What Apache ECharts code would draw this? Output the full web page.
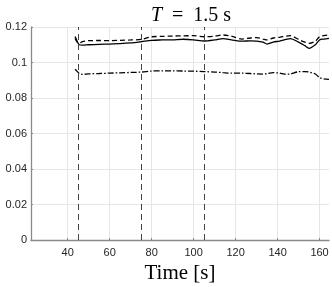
<!DOCTYPE html>
<html><head><meta charset="utf-8">
<script src="https://cdn.jsdelivr.net/npm/echarts@6/dist/echarts.min.js"></script>
<style>html,body{margin:0;padding:0;background:#fff}#c{width:332px;height:287px}</style>
</head><body><div id="c"></div>
<script>
const timeS = [43.5,44.5,45.5,47,50,55,60,65,70,75,80,85,90,95,100,105,110,114,118,123,127,130,133,135,138,141,144,146,150,153,155,158,160,162,164.5];
const solidVals = [0.1146,0.112,0.110,0.1098,0.110,0.1102,0.1104,0.1106,0.111,0.1117,0.1125,0.1127,0.1128,0.1131,0.1128,0.1121,0.1127,0.1135,0.1128,0.112,0.1122,0.1121,0.1115,0.1104,0.1115,0.1121,0.113,0.1135,0.1115,0.1095,0.108,0.110,0.1127,0.1132,0.1136];
const dashedVals = [0.1136,0.1115,0.1108,0.1118,0.1123,0.1124,0.1123,0.1125,0.1127,0.113,0.1145,0.1147,0.1149,0.115,0.1151,0.1145,0.1148,0.1155,0.1148,0.1132,0.1138,0.114,0.1132,0.1127,0.1138,0.1142,0.1148,0.1151,0.113,0.1115,0.1108,0.112,0.1145,0.1152,0.1155];
const dashDotVals = [0.0962,0.095,0.0938,0.0933,0.0936,0.0938,0.094,0.0942,0.0944,0.0946,0.0952,0.0953,0.0953,0.0952,0.0951,0.0949,0.0946,0.0943,0.094,0.094,0.0938,0.0936,0.0935,0.0937,0.0943,0.094,0.0934,0.0935,0.0948,0.0949,0.0946,0.0935,0.0915,0.0908,0.0905];
const xTicks = [40,60,80,100,120,140,160];
const markTimes = [45,75,105];

const zip = v => timeS.map((t,i)=>[t,v[i]]);
const chart = echarts.init(document.getElementById('c'));
chart.setOption({
  animation:false,
  title:{text:'{i|T}  =  1.5 s',left:186,textAlign:'center',top:1,
    textStyle:{fontFamily:'Liberation Serif',fontSize:20,fontWeight:'normal',color:'#000',
      rich:{i:{fontFamily:'Liberation Serif',fontStyle:'italic',fontSize:20,color:'#000'}}}},
  grid:{left:31,right:3,top:27,bottom:47,containLabel:false,outerBoundsMode:'none'},
  xAxis:{type:'value',min:22.5,max:164.5,
    name:'Time [s]',nameLocation:'middle',nameGap:21,
    nameTextStyle:{fontFamily:'Liberation Serif',fontSize:21,color:'#000'},
    axisLine:{lineStyle:{color:'#8a8a8a',width:1.3}},
    axisTick:{show:true,inside:true,length:2,customValues:xTicks,lineStyle:{color:'#8a8a8a'}},
    axisLabel:{customValues:xTicks,fontFamily:'Liberation Sans',fontSize:11,color:'#262626',margin:7},
    splitLine:{show:true,lineStyle:{color:'#e6e6e6',width:1}}
  },
  yAxis:{type:'value',min:0,max:0.12,interval:0.02,
    axisLine:{show:true,lineStyle:{color:'#8a8a8a',width:1.3}},
    axisTick:{show:true,inside:true,length:2,lineStyle:{color:'#8a8a8a'}},
    axisLabel:{fontFamily:'Liberation Sans',fontSize:11,color:'#262626',margin:4,
      formatter:v=>String(Math.round(v*100)/100)},
    splitLine:{show:true,lineStyle:{color:'#e6e6e6',width:1}}
  },
  series:[
    {type:'line',data:zip(solidVals),showSymbol:false,smooth:0.3,lineStyle:{color:'#000',width:1.3},
      markLine:{silent:true,symbol:'none',label:{show:false},
        lineStyle:{color:'#444',type:[6,4],width:1},
        data:markTimes.map(t=>({xAxis:t}))}},
    {type:'line',data:zip(dashedVals),showSymbol:false,smooth:0.3,lineStyle:{color:'#000',width:1.3,type:[5,3]}},
    {type:'line',data:zip(dashDotVals),showSymbol:false,smooth:0.3,lineStyle:{color:'#000',width:1.3,type:[6,2,1.5,2]}}
  ]
});
</script></body></html>
